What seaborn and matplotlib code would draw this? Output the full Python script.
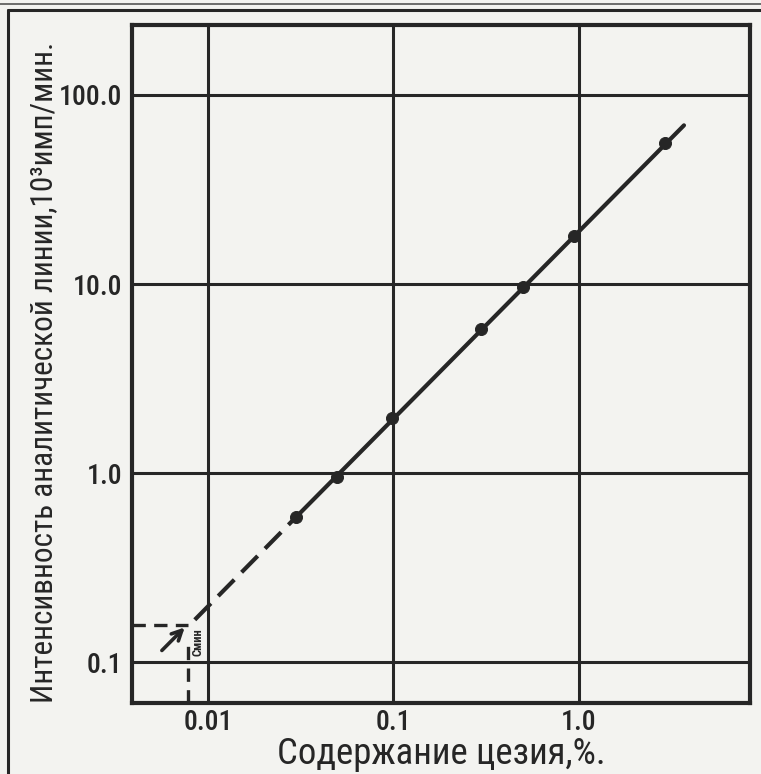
import matplotlib
matplotlib.use("Agg")
import matplotlib.pyplot as plt
from matplotlib.lines import Line2D
import seaborn as sns
import pandas as pd

# data
cesium_pct = [0.0298, 0.0495, 0.098, 0.296, 0.50, 0.94, 2.91]
intensity = [0.585, 0.96, 1.95, 5.78, 9.6, 17.9, 55.7]

fit_solid_x = [0.0298, 3.68]
fit_solid_y = [0.585, 69.0]
fit_dash_x = [0.0085, 0.0298]
fit_dash_y = [0.168, 0.585]

arrow_start = (0.00565, 0.1156)
arrow_tip = (0.0075, 0.153)
c_min = 0.0078
i_min = 0.158

x_ticks = [0.01, 0.1, 1.0]
x_ticklabels = ["0.01", "0.1", "1.0"]
y_ticks = [0.1, 1.0, 10.0, 100.0]
y_ticklabels = ["0.1", "1.0", "10.0", "100.0"]

xlabel = "Содержание цезия,%."
ylabel = "Интенсивность аналитической линии,10³имп/мин."
small_label = "Смин"

df = pd.DataFrame({"x": cesium_pct, "y": intensity})

sns.set_style("white")
plt.rcParams['font.family'] = ['Roboto Condensed', 'Liberation Sans Narrow',
                               'Liberation Sans', 'DejaVu Sans']
plt.rcParams['font.weight'] = 'medium'

INK = "#262626"
BG = "#f3f3f0"

fig = plt.figure(figsize=(7.61, 7.74), dpi=100, facecolor=BG)
ax = fig.add_axes([132/761, 1-703/774, (750-132)/761, (703-25)/774])
ax.set_facecolor(BG)
ax.set_xscale("log")
ax.set_yscale("log")
ax.set_xlim(0.0039, 8.35)
ax.set_ylim(0.061, 234)

ax.set_xticks(x_ticks)
ax.set_xticklabels(x_ticklabels)
ax.set_yticks(y_ticks)
ax.set_yticklabels(y_ticklabels)
ax.minorticks_off()
ax.tick_params(axis="x", length=0, pad=4, labelsize=20, colors=INK)
ax.tick_params(axis="y", length=6, width=2.2, pad=1, labelsize=20, colors=INK)
ax.grid(True, which="major", color=INK, lw=2.2)
for s in ax.spines.values():
    s.set_color(INK)
    s.set_linewidth(3)

# fitted line
sns.lineplot(x=fit_solid_x, y=fit_solid_y, ax=ax, color=INK, lw=3, zorder=4)
sns.lineplot(x=fit_dash_x, y=fit_dash_y, ax=ax, color=INK, lw=3, zorder=4,
             linestyle=(0, (5.5, 2.5)))
# data points
sns.scatterplot(data=df, x="x", y="y", ax=ax, color=INK, s=75, edgecolor=INK,
                zorder=5, legend=False)

# detection-limit construction
ax.annotate("", xy=arrow_tip, xytext=arrow_start,
            arrowprops=dict(arrowstyle="->", lw=2.6, color=INK,
                            mutation_scale=18, shrinkA=0, shrinkB=0), zorder=5)
ax.plot([0.0039, c_min], [i_min, i_min], color=INK, lw=2.4, linestyle=(0, (4, 2.5)))
ax.plot([c_min, c_min], [0.061, i_min * 0.82], color=INK, lw=2.4, linestyle=(0, (4, 2.5)))
ax.text(0.0088, 0.128, small_label, rotation=90, fontsize=9, color=INK,
        ha="center", va="center", fontweight="bold")

ax.set_xlabel(xlabel, fontsize=26.5, color=INK, labelpad=0)
ax.set_ylabel(ylabel, fontsize=22.5, color=INK)
ax.yaxis.set_label_coords(-0.12, 0.487)

# outer frame of the page figure
fig.add_artist(Line2D([8/761, 8/761], [0, 1-10/774], transform=fig.transFigure,
                      color=INK, lw=2.2))
fig.add_artist(Line2D([8/761, 1], [1-10/774, 1-10/774], transform=fig.transFigure,
                      color=INK, lw=2.2))
fig.add_artist(Line2D([0, 1], [1-4/774, 1-4/774], transform=fig.transFigure,
                      color="#555555", lw=1.2))

fig.savefig("out.png", dpi=100, facecolor=BG)
